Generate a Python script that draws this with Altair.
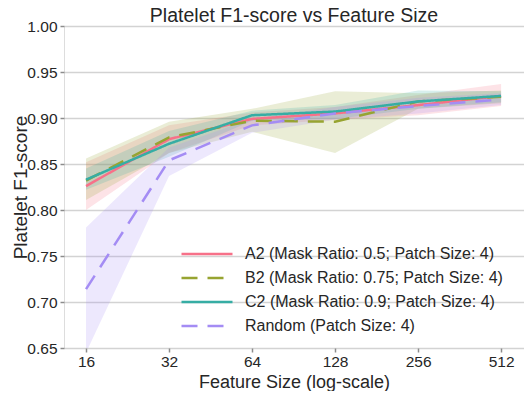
import altair as alt
import pandas as pd

sizes = [16, 32, 64, 128, 256, 512]
series = [
    "A2 (Mask Ratio: 0.5; Patch Size: 4)",
    "B2 (Mask Ratio: 0.75; Patch Size: 4)",
    "C2 (Mask Ratio: 0.9; Patch Size: 4)",
    "Random (Patch Size: 4)",
]
colors = ["#f77189", "#97a431", "#36ada4", "#a48cf4"]
dashes = [[1, 0], [16, 10], [1, 0], [16, 10]]

A2_mean = [0.826, 0.877, 0.899, 0.905, 0.914, 0.924]
A2_lo = [0.800, 0.862, 0.892, 0.898, 0.903, 0.913]
A2_hi = [0.852, 0.892, 0.906, 0.912, 0.925, 0.937]
B2_mean = [0.832, 0.879, 0.897, 0.896, 0.918, 0.923]
B2_lo = [0.811, 0.862, 0.885, 0.862, 0.910, 0.916]
B2_hi = [0.856, 0.896, 0.910, 0.929, 0.927, 0.930]
C2_mean = [0.833, 0.872, 0.903, 0.907, 0.918, 0.924]
C2_lo = [0.822, 0.858, 0.897, 0.899, 0.910, 0.917]
C2_hi = [0.845, 0.886, 0.908, 0.914, 0.930, 0.929]
R_mean = [0.714, 0.854, 0.892, 0.905, 0.913, 0.920]
R_lo = [0.645, 0.837, 0.884, 0.898, 0.905, 0.914]
R_hi = [0.781, 0.868, 0.899, 0.912, 0.922, 0.927]

means = [A2_mean, B2_mean, C2_mean, R_mean]
los = [A2_lo, B2_lo, C2_lo, R_lo]
his = [A2_hi, B2_hi, C2_hi, R_hi]

rows = []
for s, m, lo, hi in zip(series, means, los, his):
    for x, a, b, c in zip(sizes, m, lo, hi):
        rows.append({"size": x, "series": s, "mean": a, "lo": b, "hi": c})
df = pd.DataFrame(rows)

FONT = "Liberation Sans"
TXT = "#262626"
FRAME = "#8c8c8c"

xscale = alt.Scale(type="log", base=2, domain=[13.31, 620], nice=False)
yscale = alt.Scale(domain=[0.65, 1.0], nice=False, zero=False)
cscale = alt.Scale(domain=series, range=colors)
dscale = alt.Scale(domain=series, range=dashes)

x = alt.X("size:Q", scale=xscale, title="Feature Size (log-scale)",
          axis=alt.Axis(values=sizes, format="d", grid=False, domain=False,
                        tickColor=FRAME, tickSize=4, tickWidth=1.5,
                        labelFontSize=15.5, labelColor=TXT, labelFont=FONT,
                        labelPadding=2, titleFontSize=18, titleFont=FONT,
                        titleColor=TXT, titleFontWeight="normal", titlePadding=4))
y = alt.Y("mean:Q", scale=yscale, title="Platelet F1-score",
          axis=alt.Axis(values=[0.65, 0.7, 0.75, 0.8, 0.85, 0.9, 0.95, 1.0],
                        format=".2f", grid=True, gridColor="#d3d3d3",
                        gridWidth=1.6, domain=False, tickColor=FRAME,
                        tickSize=4, tickWidth=1.5, labelFontSize=15.5,
                        labelColor=TXT, labelFont=FONT, labelPadding=3,
                        titleFontSize=19, titleFont=FONT, titleColor=TXT,
                        titleFontWeight="normal", titlePadding=-4))

base = alt.Chart(df)

bands = base.mark_area(opacity=0.2, clip=True).encode(
    x=x,
    y=alt.Y("lo:Q", scale=yscale),
    y2="hi:Q",
    color=alt.Color("series:N", scale=cscale, legend=None),
    detail="series:N",
)

leg = alt.Legend(orient="none", legendX=133, legendY=218, padding=0,
                 symbolType="M-3,0H3", symbolSize=289,
                 symbolStrokeWidth=2.5, labelFontSize=16,
                 labelFont=FONT, labelColor=TXT,
                 rowPadding=6, labelOffset=28, labelLimit=400)

lines = base.mark_line(strokeWidth=2.5, clip=True).encode(
    x=x,
    y=y,
    color=alt.Color("series:N", scale=cscale, title=None, legend=leg),
    strokeDash=alt.StrokeDash("series:N", scale=dscale, title=None, legend=leg),
    order=alt.Order("size:Q"),
)

chart = (
    alt.layer(bands, lines)
    .resolve_legend(color="independent", strokeDash="independent")
    .properties(
        width=460,
        height=322,
        autosize="none",
        padding={"left": 56, "top": 18, "right": 0, "bottom": 43},
        title=alt.TitleParams("Platelet F1-score vs Feature Size", fontSize=19.5,
                              font=FONT, color=TXT, fontWeight="normal",
                              offset=-7, frame="group"),
    )
    .configure_view(stroke=FRAME, strokeWidth=1.5)
    .configure(background="white")
)

chart.save("out.html", embed_options={"renderer": "svg", "actions": False})
